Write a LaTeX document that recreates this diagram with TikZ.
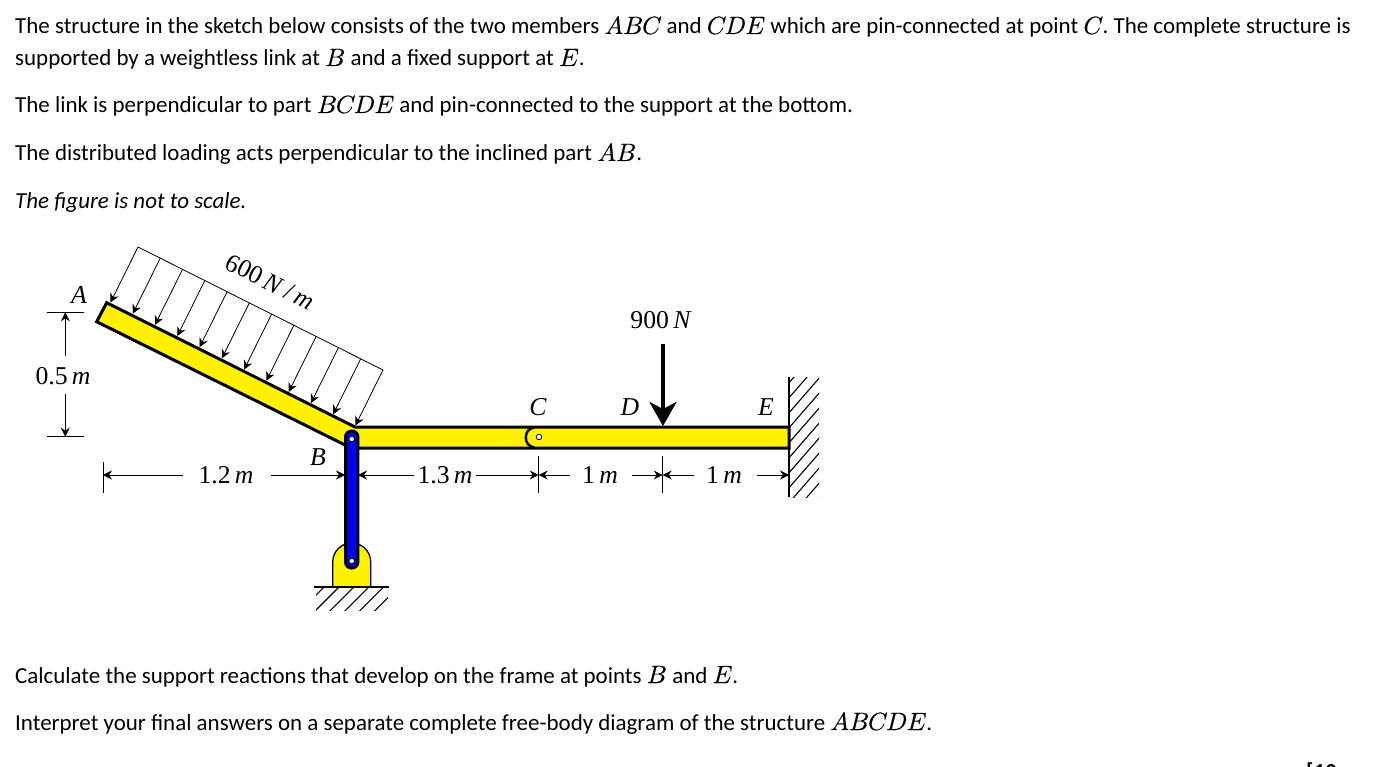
\documentclass[tikz,border=0pt]{standalone}
\usepackage{fontspec}
\setmainfont{Carlito}
\newfontfamily\figfont{Liberation Serif}
\newfontface\mmfont[FakeBold=0.25]{Latin Modern Math}
\usetikzlibrary{arrows.meta}
\definecolor{memberyellow}{RGB}{255,242,0}
\definecolor{linkblue}{RGB}{0,0,255}
\newcommand{\mth}[1]{{\mmfont\fontsize{25}{25}\selectfont #1\kern1.3pt}}
\newcommand{\mA}{\char"1D434 }
\newcommand{\mB}{\char"1D435 }
\newcommand{\mC}{\char"1D436 }
\newcommand{\mD}{\char"1D437 }
\newcommand{\mE}{\char"1D438 }
\newcommand{\un}{\,\textit{m}}
\tikzset{
  para/.style={anchor=base west,inner sep=0pt,font=\fontsize{22.95}{23}\selectfont},
  lab/.style={inner sep=0pt,font=\figfont\fontsize{25.7}{26}\selectfont},
  dimline/.style={line width=.8pt,-{Stealth[length=9pt,width=9pt,inset=3pt]}},
  thin line/.style={line width=.8pt},
  loadarrow/.style={line width=.8pt,-{Stealth[length=9pt,width=9pt,inset=3pt]}},
  member/.style={draw=black,fill=memberyellow,line width=3pt,line join=miter},
  pin/.style={circle,draw=black,fill=white,line width=.8pt,minimum size=5.5pt,inner sep=0pt},
  hatch/.style={line width=1.1pt}
}
\begin{document}
\begin{tikzpicture}[x=1pt,y=-1pt]
\useasboundingbox (0,0) rectangle (1376,767);
\clip (0,0) rectangle (1376,767);
% text
\node[para] (t1) at (15,34) {The structure in the sketch below consists of the two members \mth{\mA\mB\mC} and \mth{\mC\mD\mE} which are pin-connected at point \mth{\mC}. The complete structure is};
\node[para] (t2) at (15,66) {supported by a weightless link at \mth{\mB} and a fixed support at \mth{\mE}.};
\node[para] (t3) at (15,113) {The link is perpendicular to part \mth{\mB\mC\mD\mE} and pin-connected to the support at the bottom.};
\node[para] (t4) at (15,161) {The distributed loading acts perpendicular to the inclined part \mth{\mA\mB}.};
\node[para] (t5) at (15,209) {\textit{The figure is not to scale.}};
\node[para] (t6) at (15,683) {Calculate the support reactions that develop on the frame at points \mth{\mB} and \mth{\mE}.};
\node[para] (t7) at (15,730) {Interpret your final answers on a separate complete free-body diagram of the structure \mth{\mA\mB\mC\mD\mE}.};
\node[para] (t8) at (1306,779) {\textbf{[10 marks]}};
% wall hatch
\begin{scope}
\clip (789,377) rectangle (819,497);
\foreach \k in {0,...,11} \draw[hatch] (789,{382.8+\k*15}) -- +(40,-46);
\end{scope}
\draw[line width=1.2pt] (789,377) -- (789,497);
% ground
\begin{scope}
\clip (316,587) rectangle (388,610);
\foreach \k in {0,...,7} \draw[hatch] ({291.1+\k*14.9},620) -- +(40,-40);
\end{scope}
% bracket
\draw[fill=memberyellow,line width=1.3pt] (332.7,587) -- (332.7,562) arc[start angle=180,end angle=360,radius=19] -- (370.7,587) -- cycle;
\draw[line width=1.3pt] (314,587) -- (389,587);
% members
\draw[member] (106.7,302.7) -- (355,427) -- (789,427) -- (789,448) -- (352,448) -- (345,445) -- (96.7,321.7) -- cycle;
\draw[line width=2.5pt] (534,427.5) .. controls (523,429) and (523,446) .. (534,447.5);
\node[pin] (C) at (539,437) {};
% link
\draw[fill=linkblue,line width=3pt,rounded corners=6pt] (345.5,431) rectangle (357.9,568);
\node[pin] (B1) at (351.7,439) {};
\node[pin] (B2) at (351.7,561) {};
% distributed load
\coordinate (qa) at (138,247);
\coordinate (qb) at (383,370);
\draw[thin line] (qa) -- (qb);
\foreach \k in {0,...,11}
  \draw[loadarrow] ({138+\k*22.27},{247+\k*11.18}) -- +(-27.5,55.5);
% point load
\coordinate (Ps) at (663,344);
\coordinate (Pe) at (663,426);
\draw[line width=4.5pt,-{Stealth[length=24pt,width=27pt,inset=7pt]}] (Ps) -- (Pe);
% labels
\node[lab] (lA) at (79,295) {\textit{A}};
\node[lab] (lB) at (318,457) {\textit{B}};
\node[lab] (lC) at (538,407) {\textit{C}};
\node[lab] (lD) at (630,407) {\textit{D}};
\node[lab] (lE) at (766,407) {\textit{E}};
\node[lab] (lP) at (661,320) {900\,\textit{N}};
\node[lab,rotate=-26.5] (lq) at (270,282) {600\,\textit{N}\,/\,\textit{m}};
\node[lab] (d0) at (63,376) {0.5\un};
\node[lab] (d1) at (226,475) {1.2\un};
\node[lab] (d2) at (445,475) {1.3\un};
\node[lab] (d3) at (600,475) {1\un};
\node[lab] (d4) at (724,475) {1\un};
% dimension ticks
\coordinate (v0) at (65.3,312.3);
\coordinate (v1) at (65.3,436.7);
\draw[thin line] (47,312.3) -- (84,312.3);
\draw[thin line] (47,436.7) -- (84,436.7);
\draw[dimline] (65.3,356) -- (v0);
\draw[dimline] (65.3,394) -- (v1);
\coordinate (x0) at (103,475);
\coordinate (xB1) at (345,475);
\coordinate (xB2) at (358,475);
\coordinate (xC) at (538.7,475);
\coordinate (xD) at (662.7,475);
\coordinate (xE) at (789,475);
\draw[thin line] (103,462) -- (103,493);
\draw[thin line] (538.7,456) -- (538.7,493);
\draw[thin line] (662.7,456) -- (662.7,493);
\draw[dimline] (183,475) -- (x0);
\draw[dimline] (271,475) -- (xB1);
\draw[dimline] (414,475) -- (xB2);
\draw[dimline] (476,475) -- (xC);
\draw[dimline] (570,475) -- (xC);
\draw[dimline] (632,475) -- (xD);
\draw[dimline] (694,475) -- (xD);
\draw[dimline] (757,475) -- (xE);
\end{tikzpicture}
\end{document}
